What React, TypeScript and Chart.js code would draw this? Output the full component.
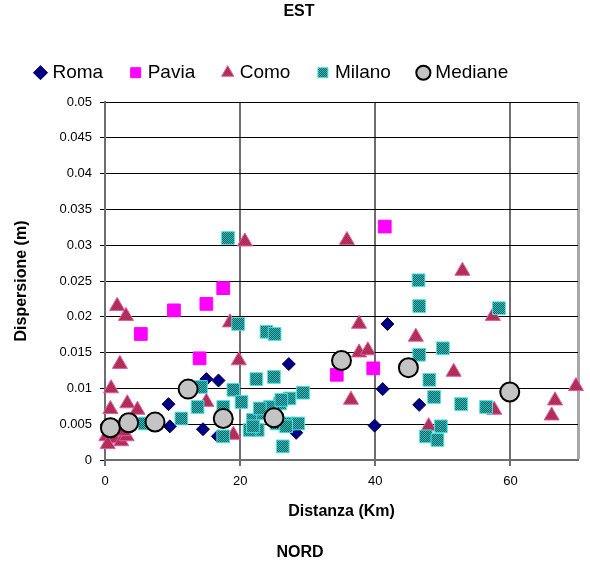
import React, { useEffect, useRef } from 'react';
import { Chart, registerables } from 'chart.js';

Chart.register(...registerables);

const FONT = "'Liberation Sans', Arial, sans-serif";

const seriesNames = ['Roma', 'Pavia', 'Como', 'Milano', 'Mediane'];

const romaX = [9.4, 9.6, 14.5, 15.0, 16.8, 16.7, 27.2, 28.3, 41.8, 41.1, 46.5, 39.9];
const romaY = [0.0078, 0.0047, 0.0043, 0.0113, 0.0111, 0.0033, 0.0134, 0.0038, 0.0190, 0.0099, 0.0077, 0.0048];

const paviaX = [17.5, 15.0, 10.2, 5.3, 14.0, 41.4, 34.3, 39.7];
const paviaY = [0.0240, 0.0218, 0.0209, 0.0176, 0.0142, 0.0326, 0.0119, 0.0128];

const comoX = [20.7, 35.8, 52.9, 57.4, 51.6, 57.6, 69.7, 66.6, 66.1, 37.6, 46.0, 37.6, 38.9, 36.4, 47.9, 18.5, 19.8, 15.0, 19.0, 1.8, 3.1, 2.2, 0.9, 3.3, 4.8, 0.8, 0.2, 1.4, 2.4, 0.4, 3.2, 0.9, 2.7];
const comoY = [0.0305, 0.0307, 0.0264, 0.0201, 0.0123, 0.0070, 0.0103, 0.0083, 0.0062, 0.0190, 0.0172, 0.0150, 0.0153, 0.0084, 0.0047, 0.0192, 0.0139, 0.0081, 0.0035, 0.0215, 0.0201, 0.0134, 0.0100, 0.0079, 0.0070, 0.0071, 0.0033, 0.0030, 0.0026, 0.0022, 0.0033, 0.0047, 0.0040];

const milanoX = [18.2, 19.7, 23.9, 25.1, 22.4, 25.0, 29.3, 19.0, 20.2, 14.2, 17.5, 17.5, 21.9, 22.6, 23.4, 25.9, 27.3, 27.1, 26.3, 24.4, 21.4, 28.6, 11.3, 13.7, 5.9, 22.9, 26.1, 25.4, 26.8, 21.9, 46.4, 46.5, 50.0, 46.5, 48.0, 48.7, 49.7, 47.5, 49.2, 58.3, 52.7, 56.4];
const milanoY = [0.0310, 0.0190, 0.0179, 0.0176, 0.0113, 0.0116, 0.0094, 0.0098, 0.0081, 0.0102, 0.0074, 0.0033, 0.0056, 0.0042, 0.0065, 0.0079, 0.0086, 0.0051, 0.0019, 0.0074, 0.0042, 0.0051, 0.0058, 0.0074, 0.0051, 0.0072, 0.0084, 0.0051, 0.0047, 0.0047, 0.0251, 0.0215, 0.0156, 0.0147, 0.0112, 0.0088, 0.0047, 0.0033, 0.0028, 0.0212, 0.0078, 0.0074];

const medianeX = [0.8, 3.5, 7.4, 12.3, 17.5, 25.0, 35.0, 44.9, 59.9];
const medianeY = [0.0045, 0.0052, 0.0053, 0.0099, 0.0058, 0.0059, 0.0139, 0.0129, 0.0095];

const xTickValues = [0, 20, 40, 60];
const xMax = 70;
const yTickValues = [0, 0.005, 0.01, 0.015, 0.02, 0.025, 0.03, 0.035, 0.04, 0.045, 0.05];
const yTickLabels = ['0', '0.005', '0.01', '0.015', '0.02', '0.025', '0.03', '0.035', '0.04', '0.045', '0.05'];

const chartTitle = 'EST';
const chartSubtitle = 'NORD';
const xTitle = 'Distanza (Km)';
const yTitle = 'Dispersione (m)';

const LEGEND_PAD = 30;
const LEGEND_START_X = 38;

function toPoints(xs: number[], ys: number[]) {
  return xs.map((x, i) => ({ x, y: ys[i] }));
}

export default function App() {
  const ref = useRef<HTMLCanvasElement>(null);

  useEffect(() => {
    const canvas = ref.current!;
    const ctx = canvas.getContext('2d')!;
    const pattern = (a: string, b: string) => {
      const c = document.createElement('canvas');
      c.width = 2;
      c.height = 2;
      const g = c.getContext('2d')!;
      g.fillStyle = a;
      g.fillRect(0, 0, 2, 2);
      g.fillStyle = b;
      g.fillRect(0, 0, 1, 1);
      g.fillRect(1, 1, 1, 1);
      return ctx.createPattern(c, 'repeat') as CanvasPattern;
    };
    const comoFill = pattern('#d8163a', '#8a4878');
    const milanoFill = pattern('#006666', '#38b8b8');

    const layoutPlugin = {
      id: 'layoutTweaks',
      beforeLayout(chart: any) {
        const lg = chart.legend;
        if (lg && !lg.__patched) {
          const orig = lg.fit.bind(lg);
          lg.fit = function () {
            orig();
            this.height = 68.8;
          };
          lg.__patched = true;
        }
      },
      beforeDraw(chart: any) {
        const lg = chart.legend;
        if (lg && lg.lineWidths) {
          lg.lineWidths[0] = lg.left + LEGEND_PAD + lg.right - 2 * LEGEND_START_X;
        }
      },
      afterDraw(chart: any) {
        const c = chart.ctx;
        c.save();
        c.fillStyle = '#000';
        c.font = `bold 16px ${FONT}`;
        c.textAlign = 'center';
        c.textBaseline = 'middle';
        c.fillText(chartTitle, 299, 12);
        c.fillText(chartSubtitle, 300, 553);
        c.restore();
      },
    };

    const chart = new Chart(canvas, {
      type: 'scatter',
      data: {
        datasets: [
          {
            label: seriesNames[0],
            data: toPoints(romaX, romaY),
            pointStyle: 'rectRot',
            pointRadius: 6.5,
            backgroundColor: '#000080',
            pointBackgroundColor: '#000080',
            borderColor: '#00005a',
            pointBorderColor: '#00005a',
            borderWidth: 1,
            pointBorderWidth: 1,
            order: 5,
            clip: false,
          },
          {
            label: seriesNames[1],
            data: toPoints(paviaX, paviaY),
            pointStyle: 'rect',
            pointRadius: 9,
            backgroundColor: '#ff00ff',
            pointBackgroundColor: '#ff00ff',
            borderColor: '#ff00ff',
            pointBorderColor: '#ff00ff',
            borderWidth: 1,
            pointBorderWidth: 1,
            order: 4,
            clip: false,
          },
          {
            label: seriesNames[2],
            data: toPoints(comoX, comoY),
            pointStyle: 'triangle',
            pointRadius: 8.7,
            backgroundColor: comoFill,
            pointBackgroundColor: comoFill,
            borderColor: '#e05aa0',
            pointBorderColor: '#e05aa0',
            borderWidth: 1,
            pointBorderWidth: 1,
            order: 3,
            clip: false,
          },
          {
            label: seriesNames[3],
            data: toPoints(milanoX, milanoY),
            pointStyle: 'rect',
            pointRadius: 9,
            backgroundColor: milanoFill,
            pointBackgroundColor: milanoFill,
            borderColor: '#50e0e0',
            pointBorderColor: '#50e0e0',
            borderWidth: 1,
            pointBorderWidth: 1,
            order: 2,
            clip: false,
          },
          {
            label: seriesNames[4],
            data: toPoints(medianeX, medianeY),
            pointStyle: 'circle',
            pointRadius: 9.5,
            backgroundColor: '#c4c4c4',
            pointBackgroundColor: '#c4c4c4',
            borderColor: '#000000',
            pointBorderColor: '#000000',
            borderWidth: 2,
            pointBorderWidth: 2,
            order: 1,
            clip: false,
          },
        ],
      },
      options: {
        responsive: false,
        animation: false,
        devicePixelRatio: 1,
        layout: { padding: { top: 33.2, right: 12, bottom: 47, left: 0 } },
        plugins: {
          legend: {
            display: true,
            position: 'top',
            labels: {
              usePointStyle: true,
              boxWidth: 5,
              boxHeight: 10,
              padding: LEGEND_PAD,
              color: '#000',
              font: { family: FONT, size: 19 },
              sort: (a: any, b: any) => a.datasetIndex - b.datasetIndex,
            },
          },
          title: { display: false },
          tooltip: { enabled: false },
        },
        scales: {
          x: {
            type: 'linear',
            min: 0,
            max: xMax,
            afterBuildTicks: (s: any) => {
              s.ticks = xTickValues.concat([xMax]).map((v) => ({ value: v }));
            },
            afterFit: (s: any) => {
              s.height = 61;
            },
            ticks: {
              padding: 7.5,
              color: '#000',
              font: { family: FONT, size: 13 },
              callback: (v: any) => (xTickValues.includes(Number(v)) ? String(v) : ''),
            },
            grid: {
              color: (c: any) => (c.tick && c.tick.value === xMax ? '#a8a8a8' : '#6e6e6e'),
              lineWidth: (c: any) => (c.tick && c.tick.value === xMax ? 3 : 2),
              tickColor: (c: any) => (c.tick && c.tick.value === xMax ? 'rgba(0,0,0,0)' : '#6e6e6e'),
              tickLength: 6,
              tickWidth: 2,
              drawTicks: true,
            },
            border: { display: true, color: '#6e6e6e', width: 2 },
            title: {
              display: true,
              text: xTitle,
              color: '#000',
              font: { family: FONT, size: 16, weight: 'bold' },
              padding: { top: 0, bottom: 0 },
            },
          },
          y: {
            type: 'linear',
            min: 0,
            max: 0.05,
            afterBuildTicks: (s: any) => {
              s.ticks = yTickValues.map((v) => ({ value: v }));
            },
            afterFit: (s: any) => {
              s.width = 105;
            },
            ticks: {
              padding: 8,
              color: '#000',
              font: { family: FONT, size: 13 },
              callback: (_v: any, i: number) => yTickLabels[i],
            },
            grid: {
              color: '#000',
              lineWidth: 1,
              tickColor: '#000',
              tickLength: 5,
              drawTicks: true,
            },
            border: { display: true, color: '#6e6e6e', width: 2 },
            title: {
              display: true,
              text: yTitle,
              color: '#000',
              font: { family: FONT, size: 16, weight: 'bold' },
              padding: { top: 12.4, bottom: 0 },
            },
          },
        },
      },
      plugins: [layoutPlugin],
    } as any);

    return () => chart.destroy();
  }, []);

  return (
    <div style={{ position: 'fixed', left: 0, top: 0, width: 590, height: 568, background: '#fff' }}>
      <canvas ref={ref} width={590} height={568} style={{ display: 'block' }} />
    </div>
  );
}
